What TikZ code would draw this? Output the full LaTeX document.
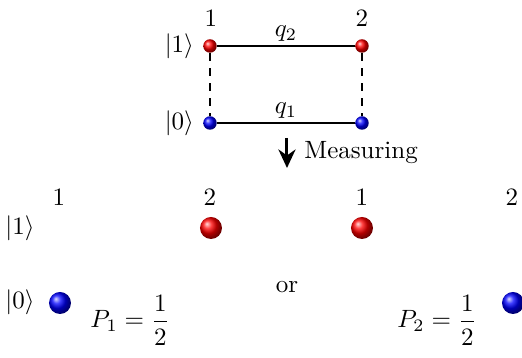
\documentclass[tikz,border=0pt]{standalone}
\usepackage{amsmath}
\usepackage{tikz}
\usetikzlibrary{arrows.meta, positioning}

\begin{document}
\begin{tikzpicture}[
  x=0.4pt, y=-0.4pt,
  qsmall/.style={circle, inner sep=0pt, minimum size=5.4pt, shading=ball},
  qbig/.style={circle, inner sep=0pt, minimum size=8.8pt, shading=ball},
  up/.style={ball color=red},
  down/.style={ball color=blue},
  link/.style={line width=1pt},
  vlink/.style={line width=1pt, dashed},
  arrow/.style={-{Stealth[length=2.6mm, width=2.4mm]}, very thick}
]
\useasboundingbox (0,0) rectangle (522,358);

% before measuring
\node[qsmall, up] (a1) at (210,46) {};
\node[qsmall, up] (a2) at (362,46) {};
\node[qsmall, down] (b1) at (210,123) {};
\node[qsmall, down] (b2) at (362,123) {};
\node (n1) at (211,18) {$1$};
\node (n2) at (362,18) {$2$};
\node[left=0pt of a1] (k1) {$|1\rangle$};
\node[left=0pt of b1] (k0) {$|0\rangle$};

\draw[link] (a1) -- node[above=-2pt] {$q_2$} (a2);
\draw[link] (b1) -- node[above=-2pt] {$q_1$} (b2);
\draw[vlink] (a1) -- (b1);
\draw[vlink] (a2) -- (b2);

\coordinate (mtop) at (287,138);
\coordinate (mbot) at (287,168);
\draw[arrow] (mtop) -- node[right=3pt] {Measuring} (mbot);

% after measuring
\node (m1) at (59,197) {$1$};
\node (m2) at (210,197) {$2$};
\node (m3) at (362,197) {$1$};
\node (m4) at (512,197) {$2$};
\node (s1) at (20,228) {$|1\rangle$};
\node (s0) at (20,302) {$|0\rangle$};

\node[qbig, down] (c1) at (60,303) {};
\node[qbig, up] (c2) at (211,228) {};
\node[qbig, up] (d1) at (362,228) {};
\node[qbig, down] (d2) at (513,303) {};

\node (or) at (287,287) {or};
\node (p1) at (130,320) {$P_1=\dfrac{1}{2}$};
\node (p2) at (437,320) {$P_2=\dfrac{1}{2}$};

\end{tikzpicture}
\end{document}
